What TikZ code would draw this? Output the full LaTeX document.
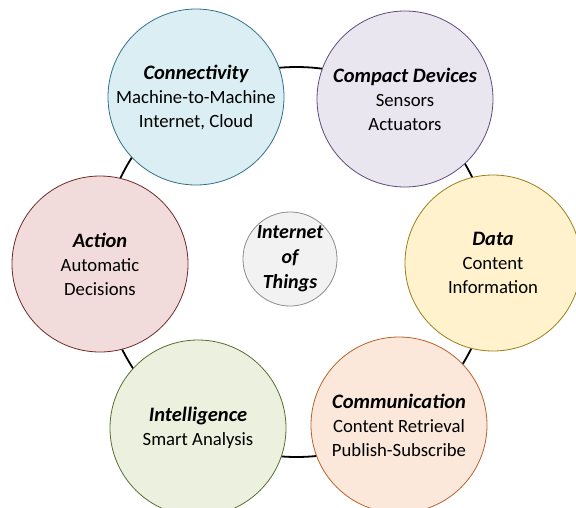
\documentclass[tikz,border=0pt]{standalone}
\usepackage{fontspec}
\setmainfont{Carlito}
\definecolor{connF}{HTML}{DAEEF3}\definecolor{connD}{HTML}{31728A}
\definecolor{compF}{HTML}{EAE6F0}\definecolor{compD}{HTML}{5F4B7D}
\definecolor{dataF}{HTML}{FFF2CC}\definecolor{dataD}{HTML}{9C7F18}
\definecolor{commF}{HTML}{FBE8DB}\definecolor{commD}{HTML}{B8622A}
\definecolor{intF}{HTML}{EBF1DE}\definecolor{intD}{HTML}{5A6E30}
\definecolor{actF}{HTML}{F2DCDB}\definecolor{actD}{HTML}{6E2B2A}
\definecolor{iotF}{HTML}{F2F2F2}\definecolor{iotD}{HTML}{8C8C8C}
\tikzset{
  bubble/.style={circle, minimum size=176pt, inner sep=0pt, line width=0.8pt,
    align=center, font=\fontsize{18.7}{24}\selectfont},
  hub/.style={circle, minimum size=92pt, inner sep=0pt, line width=0.8pt,
    align=center, font=\fontsize{20}{25}\selectfont\bfseries\itshape},
  ring/.style={line width=1.8pt, black}
}
\newcommand{\ttl}[1]{{\fontsize{20.5}{24}\selectfont\bfseries\itshape #1}}
\begin{document}
\begin{tikzpicture}[x=1pt,y=-1pt]
\clip (0,0) rectangle (576,507);
\fill[white] (0,0) rectangle (576,507);
\coordinate (ringc) at (296.5,262);
\draw[ring] (ringc) circle[radius=195];
\node[bubble, fill=connF, draw=connD] (conn) at (196,97)
  {\ttl{Connectivity}\\Machine-to-Machine\\Internet, Cloud};
\node[bubble, fill=compF, draw=compD] (comp) at (405,99)
  {\ttl{Compact Devices}\\Sensors\\Actuators};
\node[bubble, fill=dataF, draw=dataD] (data) at (493,263)
  {\ttl{Data}\\Content\\Information};
\node[bubble, fill=commF, draw=commD] (comm) at (399,425)
  {\ttl{Communication}\\Content Retrieval\\Publish-Subscribe};
\node[bubble, fill=intF, draw=intD] (intel) at (198,428)
  {\ttl{Intelligence}\\Smart Analysis};
\node[bubble, fill=actF, draw=actD] (act) at (100,264)
  {\ttl{Action}\\Automatic\\Decisions};
\node[hub, fill=iotF, draw=iotD] (iot) at (290,259)
  {Internet\\of\\Things};
\end{tikzpicture}
\end{document}
